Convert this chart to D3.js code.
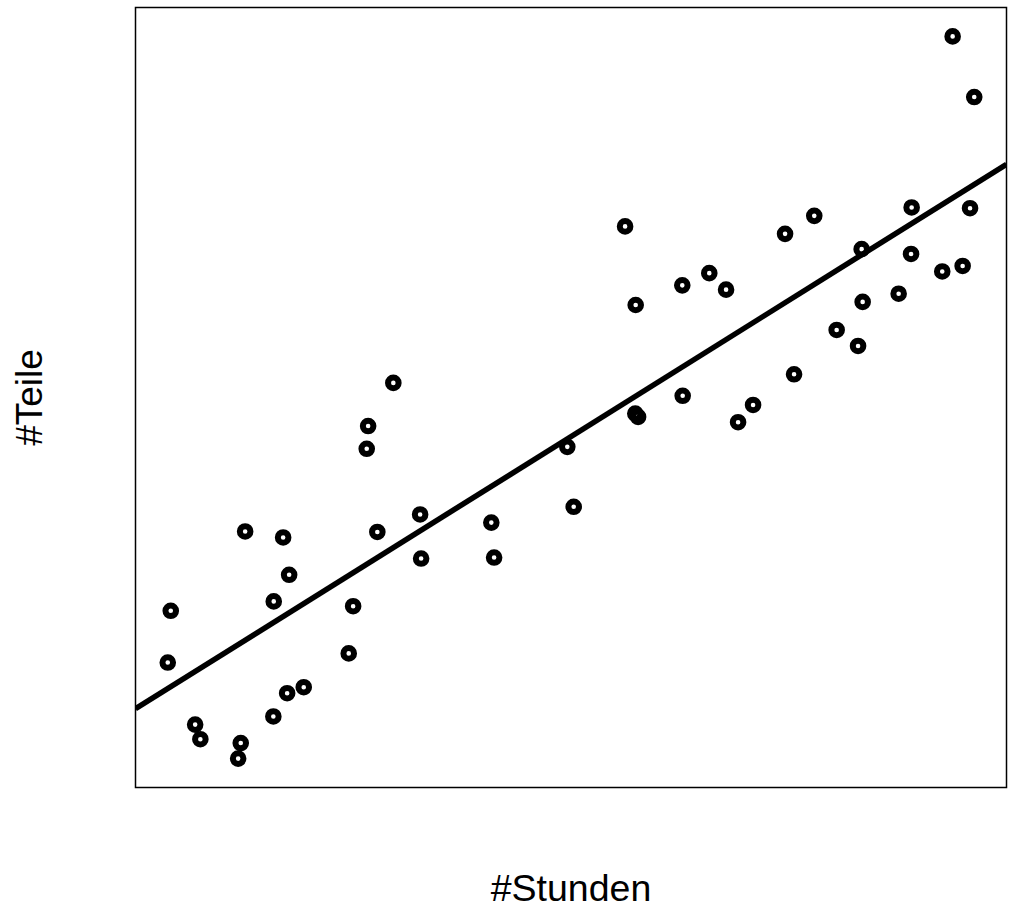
<!DOCTYPE html>
<html>
<head>
<meta charset="utf-8">
<script src="https://cdn.jsdelivr.net/npm/d3@7"></script>
<style>
  html, body { margin: 0; padding: 0; background: #fff; }
  svg { display: block; }
  text { font-family: "Liberation Sans", Arial, sans-serif; fill: #000; }
</style>
</head>
<body>
<svg id="chart" width="1011" height="920"></svg>
<script>
// Arbeitsstunden und gefertigte Teile je Beobachtung
const stunden = [
  10.17, 10.02, 11.39, 11.65, 13.67, 13.54, 13.89, 15.79, 16.09, 15.32,
  15.99, 16.82, 15.30, 19.07, 19.29, 20.50, 20.04, 19.97, 21.30, 22.64,
  22.69, 26.20, 26.34, 30.00, 30.32, 32.89, 33.42, 33.40, 33.54, 35.75,
  37.10, 37.94, 35.77, 38.54, 39.29, 40.89, 42.35, 41.34, 43.47, 44.54,
  44.72, 44.77, 46.57, 47.22, 47.19, 48.75, 49.77, 50.14, 49.27, 50.35
];
const teile = [
  162.4, 140.8, 114.9, 108.8, 107.2, 100.7, 195.5, 193.0, 177.4, 166.3,
  128.0, 130.5, 118.3, 144.6, 164.3, 195.3, 239.5, 230.0, 257.5, 202.6,
  184.2, 199.2, 184.6, 230.8, 205.8, 322.8, 290.0, 244.7, 243.3, 298.2,
  303.3, 296.4, 252.1, 241.1, 248.3, 319.7, 327.2, 261.1, 279.6, 272.9,
  313.3, 291.3, 294.7, 330.7, 311.3, 304.0, 306.3, 330.4, 402.1, 376.8
];
const xLabel = "#Stunden";
const yLabel = "#Teile";

const svg = d3.select("#chart");
const plot = { left: 135.5, right: 1006.5, top: 7.5, bottom: 787.5 };

// Achsenbereich wie in R: Datenbereich um 4 % an jeder Seite erweitert
function padded(vals) {
  const [lo, hi] = d3.extent(vals);
  const pad = (hi - lo) * 0.04;
  return [lo - pad, hi + pad];
}
const x = d3.scaleLinear().domain(padded(stunden)).range([plot.left, plot.right]);
const y = d3.scaleLinear().domain(padded(teile)).range([plot.bottom, plot.top]);

// Kleinste-Quadrate-Gerade
const mx = d3.mean(stunden), my = d3.mean(teile);
let sxy = 0, sxx = 0;
stunden.forEach((v, i) => { sxy += (v - mx) * (teile[i] - my); sxx += (v - mx) * (v - mx); });
const slope = sxy / sxx;
const intercept = my - slope * mx;

svg.append("clipPath").attr("id", "plotclip")
  .append("rect")
  .attr("x", plot.left).attr("y", plot.top)
  .attr("width", plot.right - plot.left).attr("height", plot.bottom - plot.top);

const [x0, x1] = x.domain();
svg.append("line")
  .attr("clip-path", "url(#plotclip)")
  .attr("x1", x(x0)).attr("y1", y(intercept + slope * x0))
  .attr("x2", x(x1)).attr("y2", y(intercept + slope * x1))
  .attr("stroke", "#000").attr("stroke-width", 5.5);

svg.append("g").selectAll("circle")
  .data(stunden.map((v, i) => [v, teile[i]]))
  .join("circle")
  .attr("cx", d => x(d[0]))
  .attr("cy", d => y(d[1]))
  .attr("r", 5.3)
  .attr("fill", "none")
  .attr("stroke", "#000")
  .attr("stroke-width", 6);

svg.append("rect")
  .attr("x", plot.left).attr("y", plot.top)
  .attr("width", plot.right - plot.left).attr("height", plot.bottom - plot.top)
  .attr("fill", "none").attr("stroke", "#000").attr("stroke-width", 1.5);

svg.append("text")
  .attr("x", (plot.left + plot.right) / 2).attr("y", 901)
  .attr("text-anchor", "middle").attr("font-size", 37.5)
  .text(xLabel);

svg.append("text")
  .attr("transform", `translate(41.5,${(plot.top + plot.bottom) / 2}) rotate(-90)`)
  .attr("text-anchor", "middle").attr("font-size", 37)
  .text(yLabel);
</script>
</body>
</html>
